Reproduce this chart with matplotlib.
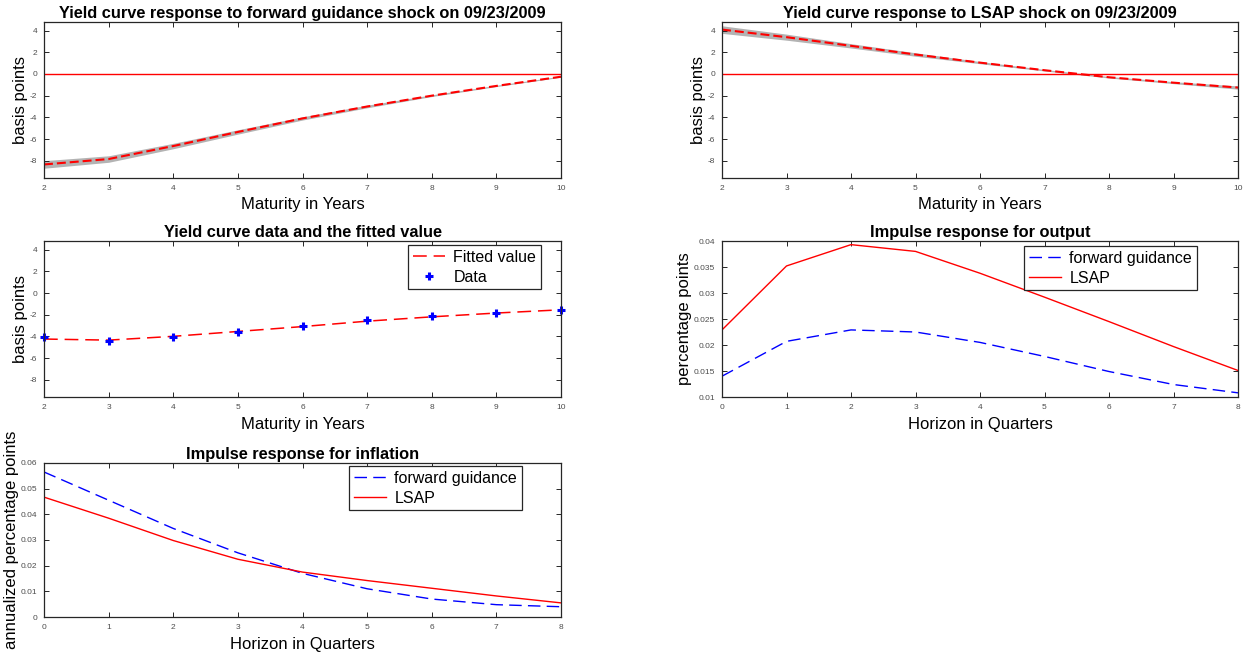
"""Yield curve responses and impulse responses (forward guidance vs LSAP)"""
import matplotlib
matplotlib.use('Agg')
import matplotlib.pyplot as plt

plt.rcParams['font.family'] = ['Liberation Sans', 'DejaVu Sans']
plt.rcParams['axes.unicode_minus'] = False

# ---- data ----
maturity = [2, 3, 4, 5, 6, 7, 8, 9, 10]
horizon = [0, 1, 2, 3, 4, 5, 6, 7, 8]

fg_curve = [-8.35, -7.85, -6.65, -5.35, -4.1, -3.0, -2.0, -1.1, -0.25]
fg_lower = [-8.7, -8.15, -6.9, -5.55, -4.25, -3.12, -2.08, -1.16, -0.3]
fg_upper = [-8.0, -7.55, -6.4, -5.15, -3.95, -2.88, -1.92, -1.04, -0.2]

lsap_curve = [4.1, 3.4, 2.6, 1.8, 1.05, 0.35, -0.3, -0.8, -1.25]
lsap_lower = [3.75, 3.12, 2.4, 1.64, 0.95, 0.28, -0.37, -0.89, -1.4]
lsap_upper = [4.45, 3.68, 2.8, 1.96, 1.15, 0.42, -0.23, -0.71, -1.1]

fitted = [-4.25, -4.35, -4.0, -3.55, -3.1, -2.6, -2.2, -1.85, -1.55]
observed = [-4.1, -4.4, -4.1, -3.6, -3.0, -2.5, -2.1, -1.8, -1.6]

out_fg = [0.0140, 0.0207, 0.0229, 0.0225, 0.0205, 0.0178, 0.0149, 0.0124, 0.0108]
out_lsap = [0.0229, 0.0352, 0.0393, 0.0380, 0.0338, 0.0292, 0.0245, 0.0197, 0.0151]

inf_fg = [0.0565, 0.0455, 0.0345, 0.0250, 0.0170, 0.0110, 0.0070, 0.0048, 0.0040]
inf_lsap = [0.0467, 0.0385, 0.0298, 0.0225, 0.0175, 0.0142, 0.0112, 0.0082, 0.0055]

W, H = 1243, 653
fig = plt.figure(figsize=(W / 100, H / 100), dpi=100)

LBL = 12
TTL = 11.8
DASH = (0, (9, 4.5))


def make_ax(x0, x1, y0, y1):
    # axes placed by pixel box (left, right, top, bottom)
    ax = fig.add_axes([x0 / W, 1 - y1 / H, (x1 - x0) / W, (y1 - y0) / H])
    ax.tick_params(direction='in', top=True, right=True, labelsize=6,
                   length=3.5, width=0.7, color='#262626',
                   labelcolor='#4d4d4d', pad=5)
    for s in ax.spines.values():
        s.set_linewidth(0.9)
        s.set_color('#262626')
    return ax


def yield_panel(ax, title, curve, lo, hi):
    ax.fill_between(maturity, lo, hi, color='#b3b3b3', lw=0)
    ax.axhline(0, color='red', lw=1)
    ax.plot(maturity, curve, color='red', ls=(0, (4.3, 1.9)), lw=1.5)
    ax.set_xlim(2, 10)
    ax.set_ylim(-9.6, 4.8)
    ax.set_yticks([-8, -6, -4, -2, 0, 2, 4])
    ax.set_xlabel('Maturity in Years', fontsize=LBL, labelpad=4)
    ax.set_ylabel('basis points', fontsize=LBL, labelpad=1)
    ax.set_title(title, fontsize=TTL, fontweight='bold', pad=3)


ax1 = make_ax(44, 561, 22, 178)
yield_panel(ax1, 'Yield curve response to forward guidance shock on 09/23/2009',
            fg_curve, fg_lower, fg_upper)

ax2 = make_ax(722, 1238, 22, 178)
yield_panel(ax2, 'Yield curve response to LSAP shock on 09/23/2009',
            lsap_curve, lsap_lower, lsap_upper)

# fitted vs data
ax3 = make_ax(44, 561, 241, 397)
ax3.plot(maturity, fitted, color='red', ls=DASH, lw=1.1, label='Fitted value')
ax3.plot(maturity, observed, ls='none', marker='+', ms=6, mew=2.2,
         color='blue', label='Data', clip_on=False)
ax3.set_xlim(2, 10)
ax3.set_ylim(-9.6, 4.8)
ax3.set_yticks([-8, -6, -4, -2, 0, 2, 4])
ax3.set_xlabel('Maturity in Years', fontsize=LBL, labelpad=4)
ax3.set_ylabel('basis points', fontsize=LBL, labelpad=1)
ax3.set_title('Yield curve data and the fitted value', fontsize=TTL,
              fontweight='bold', pad=3)

# output IRF
ax4 = make_ax(722, 1238, 241, 397)
ax4.plot(horizon, out_fg, color='blue', ls=DASH, lw=1, label='forward guidance')
ax4.plot(horizon, out_lsap, color='red', lw=1, label='LSAP')
ax4.set_xlim(0, 8)
ax4.set_ylim(0.01, 0.04)
ax4.set_yticks([0.01, 0.015, 0.02, 0.025, 0.03, 0.035, 0.04])
ax4.set_yticklabels(['0.01', '0.015', '0.02', '0.025', '0.03', '0.035', '0.04'])
ax4.set_xlabel('Horizon in Quarters', fontsize=LBL, labelpad=4)
ax4.set_ylabel('percentage points', fontsize=LBL, labelpad=1)
ax4.set_title('Impulse response for output', fontsize=TTL, fontweight='bold', pad=3)

# inflation IRF
ax5 = make_ax(44, 561, 463, 617)
ax5.plot(horizon, inf_fg, color='blue', ls=DASH, lw=1, label='forward guidance')
ax5.plot(horizon, inf_lsap, color='red', lw=1, label='LSAP')
ax5.set_xlim(0, 8)
ax5.set_ylim(0, 0.06)
ax5.set_yticks([0, 0.01, 0.02, 0.03, 0.04, 0.05, 0.06])
ax5.set_yticklabels(['0', '0.01', '0.02', '0.03', '0.04', '0.05', '0.06'])
ax5.set_xlabel('Horizon in Quarters', fontsize=LBL, labelpad=4)
ax5.set_ylabel('annualized percentage points', fontsize=LBL, labelpad=1)
ax5.set_title('Impulse response for inflation', fontsize=TTL, fontweight='bold', pad=3)

leg_kw = dict(fontsize=11.5, fancybox=False, edgecolor='#262626', framealpha=1,
              handlelength=2.0, handletextpad=0.55, borderpad=0.3,
              labelspacing=0.3, borderaxespad=0)
for ax, (lx, ly) in [(ax3, (541, 245)), (ax4, (1197, 246)), (ax5, (522, 466))]:
    leg = ax.legend(loc='upper right', bbox_to_anchor=(lx / W, 1 - ly / H),
                    bbox_transform=fig.transFigure, **leg_kw)
    leg.get_frame().set_linewidth(0.9)

plt.savefig('out.png', dpi=100)
plt.close()
